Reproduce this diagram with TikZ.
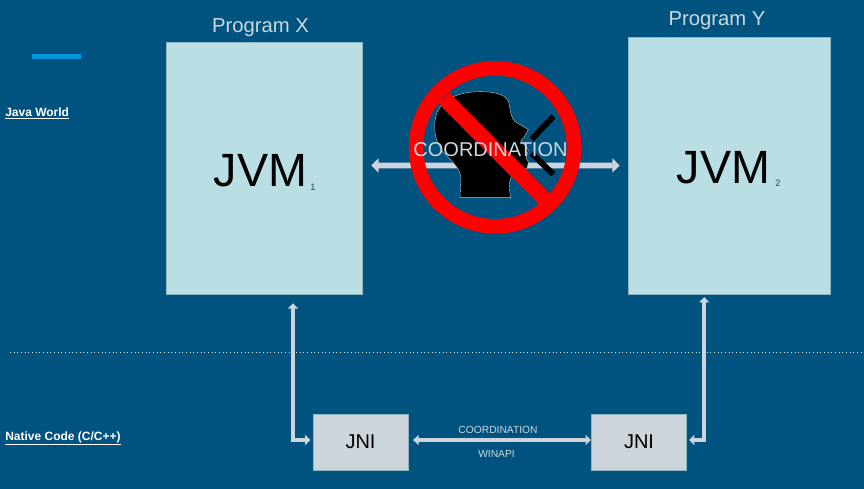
\documentclass[tikz,border=0pt]{standalone}
\usepackage{fontspec}
\setmainfont{Liberation Sans}
\usetikzlibrary{arrows.meta}
\definecolor{bgc}{HTML}{00527F}
\definecolor{jvmc}{HTML}{B9DEE3}
\definecolor{jnic}{HTML}{CDD5DC}
\definecolor{bluec}{HTML}{0096E0}
\definecolor{bordc}{HTML}{8FB4C2}
\definecolor{titlec}{HTML}{CBD8DE}
\newcommand{\fs}[1]{\fontsize{#1}{#1}\selectfont}
\tikzset{
  jvmbox/.style={draw=bordc,line width=.6pt,fill=jvmc,minimum width=0pt,inner sep=0pt},
  jnibox/.style={draw=bordc,line width=.5pt,fill=jnic,inner sep=0pt,minimum width=71.5pt,minimum height=42pt,font=\fs{15},text=black},
  thinlink/.style={draw=jnic,line width=2.9pt,{Triangle[width=7.5pt,length=4pt]}-{Triangle[width=7.5pt,length=4pt]}},
  biglink/.style={draw=jnic,line width=4.4pt,{Triangle[width=10.5pt,length=5.5pt]}-{Triangle[width=10.5pt,length=5.5pt]}},
  title/.style={text=titlec,font=\fs{15.2},inner sep=0pt},
  side/.style={text=white,font=\fs{9}\bfseries,anchor=west,inner sep=0pt},
  small/.style={text=titlec,font=\fs{7.7},inner sep=0pt},
  jvmtext/.style={text=black,font=\fs{35},inner sep=0pt},
  subtext/.style={text=black!75,font=\fs{7},inner sep=0pt},
}
\begin{document}
\begin{tikzpicture}[x=.75pt,y=-.75pt]
\useasboundingbox (0,0) rectangle (864,489);
\fill[bgc] (0,0) rectangle (864,489);
% accent and separator
\fill[bluec] (32,54) rectangle (81,58.5);
\draw[white!85!bgc,line width=.75pt,dotted] (10,352) -- (864,352);
% boxes
\node[jvmbox,minimum width=147.5pt,minimum height=189.5pt] (jvmx) at (264.5,168.5) {};
\node[jvmbox,minimum width=151.5pt,minimum height=193pt] (jvmy) at (729,166) {};
\node[jnibox,yshift=-.75pt] (jnia) at (360.5,441) {JNI};
\node[jnibox,yshift=-.75pt] (jnib) at (639,441) {JNI};
% titles
\node[title] (px) at (260.5,28) {Program X};
\node[title] (py) at (717,21) {Program Y};
\node[jvmtext] (ja) at (260.5,171) {JVM};
\node[jvmtext] (jb) at (723.5,168) {JVM};
\node[subtext] (sa) at (313,187) {1};
\node[subtext] (sb) at (778,183) {2};
% side labels
\node[side] (jw) at (5,113.5) {\underline{Java World}};
\node[side] (nc) at (5,438.5) {\underline{Native Code (C/C++)}};
% big coordination arrow
\draw[biglink] ([xshift=6pt,yshift=2.3pt]jvmx.east) -- ([xshift=-6pt,yshift=.4pt]jvmy.west);
% head
\begin{scope}[shift={(400,50)},x=.25pt,y=-.25pt]
  \fill[black,draw=white!70!bgc,line width=.3pt]
    (180,443) -- (183,385) .. controls (180,345) and (140,325) .. (122,295)
    .. controls (100,262) and (100,215) .. (112,185)
    .. controls (130,145) and (180,125) .. (240,125)
    .. controls (290,125) and (325,135) .. (328,165)
    .. controls (330,185) and (335,205) .. (345,215)
    -- (385,238) -- (372,262) -- (362,272) -- (385,300) -- (378,325) -- (385,335) -- (382,352)
    .. controls (375,365) and (345,365) .. (335,378)
    .. controls (325,395) and (328,420) .. (332,443) -- cycle;
  \draw[black,line width=4.4pt] (395,268) -- (460,199);
  \draw[black,line width=4.4pt] (395,310) -- (460,373);
  \draw[red,line width=10.9pt] (285,292) circle[radius=237];
  \draw[red,line width=11.5pt] (131,144) -- (434,448);
\end{scope}
\node[title,font=\fs{15}] (co) at (490.5,150) {COORDINATION};
% lower connectors
\draw[thinlink] ([xshift=21.4pt,yshift=-6pt]jvmx.south) |- ([xshift=-1.5pt,yshift=1.5pt]jnia.west);
\draw[thinlink] ([xshift=-18.6pt,yshift=-1.5pt]jvmy.south) |- ([xshift=1.5pt,yshift=1.5pt]jnib.east);
\draw[thinlink] ([xshift=3.5pt,yshift=1.5pt]jnia.east) -- ([yshift=1.5pt]jnib.west);
\node[small] (cs) at (498,430) {COORDINATION};
\node[small] (wa) at (496.5,454) {WINAPI};
\end{tikzpicture}
\end{document}
